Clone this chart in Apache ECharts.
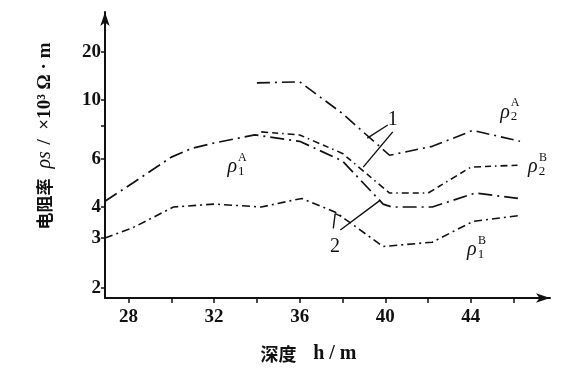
<!DOCTYPE html>
<html><head><meta charset="utf-8">
<script src="https://cdn.jsdelivr.net/npm/echarts@6/dist/echarts.min.js"></script>
<style>html,body{margin:0;padding:0;background:#fff}#c{width:586px;height:375px}</style>
</head><body><div id="c"></div>
<script>
// ---- data (depth h/m, resistivity x10^3 Ω·m) ----
const rho2A_x = [34, 36, 38, 40.2, 42.2, 44.1, 46.3];
const rho2A_v = [12.8, 13.0, 8.9, 6.2, 6.7, 7.7, 7.0];
const rho2B_x = [34.2, 36, 38, 40.2, 42, 44, 46.3];
const rho2B_v = [7.6, 7.4, 6.3, 4.5, 4.5, 5.6, 5.7];
const rho1A_x = [26.9, 28.2, 30, 31, 32, 33.9, 36, 38, 39.9, 40.3, 42.2, 44.2, 46.2];
const rho1A_v = [4.2, 4.9, 6.1, 6.6, 6.9, 7.4, 7.0, 5.9, 4.1, 4.0, 4.0, 4.5, 4.3];
const rho1B_x = [26.9, 28.2, 30.1, 32, 34.2, 36.1, 37.7, 39.9, 42.2, 44.1, 46.3];
const rho1B_v = [3.0, 3.3, 4.0, 4.1, 4.0, 4.3, 3.8, 2.8, 2.9, 3.5, 3.7];
const xTicks = [28, 30, 32, 34, 36, 38, 40, 42, 44, 46];
const xLabels = [28, 32, 36, 40, 44];
const yTicks = [2, 3, 4, 6, 8, 10, 20];
const yLabels = [2, 3, 4, 6, 10, 20];

// ---- hand-drawn (non-uniform) resistivity scale: breakpoints in axis units ----
const scaleVals = [2, 3, 4, 6, 8, 10, 20];
const scaleUnits = [10, 60, 91, 139, 172, 198, 246];
function toAxis(v) {
  let i = 0;
  while (i < scaleVals.length - 2 && v > scaleVals[i + 1]) i++;
  const a = Math.log(scaleVals[i]), b = Math.log(scaleVals[i + 1]);
  const t = (Math.log(v) - a) / (b - a);
  return scaleUnits[i] + t * (scaleUnits[i + 1] - scaleUnits[i]);
}
const pts = (xs, vs) => xs.map((x, i) => [x, toAxis(vs[i])]);
const C = (x, v) => [x, toAxis(v)];

const serif = 'Liberation Serif';
const hidden = {symbol: 'circle', symbolSize: 1, itemStyle: {color: 'rgba(0,0,0,0)'}};
function rhoLabels(x, v, sub, sup) {
  return [
    Object.assign({coord: C(x, v), value: 'ρ', label: {offset: [0, 0], fontSize: 20, fontStyle: 'italic'}}, hidden),
    Object.assign({coord: C(x, v), value: sub, label: {offset: [9, 4], fontSize: 13}}, hidden),
    Object.assign({coord: C(x, v), value: sup, label: {offset: [10, -9], fontSize: 12}}, hidden)
  ];
}
const lineCommon = {type: 'line', symbol: 'none', smooth: false, silent: true, z: 3};
const black = '#111';
const mpLabel = {show: true, color: black, fontFamily: serif, formatter: p => p.value};

const chart = echarts.init(document.getElementById('c'), null, {renderer: 'canvas'});
chart.setOption({
  animation: false,
  backgroundColor: '#fff',
  grid: {left: 105, right: 36, top: 12, bottom: 77},
  xAxis: {
    type: 'value', min: 26.9, max: 47.7,
    name: '{c|深度}     {n|h / m}', nameLocation: 'middle', nameGap: 46,
    nameTextStyle: {
      color: black, padding: [0, 38, 0, 0],
      rich: {
        c: {fontFamily: 'Noto Sans CJK SC', fontWeight: 'bold', fontSize: 18, color: black},
        n: {fontFamily: serif, fontWeight: 'bold', fontSize: 20, color: black}
      }
    },
    axisLine: {lineStyle: {color: black, width: 2}, symbol: ['none', 'arrow'], symbolSize: [7, 14]},
    axisTick: {show: true, inside: false, length: 5, lineStyle: {color: black, width: 1.5}, customValues: xTicks},
    axisLabel: {customValues: xLabels, color: black, fontSize: 19, fontWeight: 'bold', fontFamily: serif, margin: 10},
    splitLine: {show: false}
  },
  yAxis: {
    type: 'value', min: 0, max: 286,
    name: '{c|电阻率}   {i|ρs}  {n|/  ×10³ Ω · m}', nameLocation: 'middle', nameRotate: 90, nameGap: 50,
    nameTextStyle: {
      color: black, padding: [0, 0, 0, 38],
      rich: {
        c: {fontFamily: 'Noto Sans CJK SC', fontWeight: 'bold', fontSize: 17, color: black},
        i: {fontFamily: serif, fontStyle: 'italic', fontSize: 20, color: black},
        n: {fontFamily: serif, fontSize: 19, fontWeight: 'bold', color: black}
      }
    },
    axisLine: {lineStyle: {color: black, width: 2}, symbol: ['none', 'arrow'], symbolSize: [7, 14]},
    axisTick: {show: true, inside: false, length: 4, lineStyle: {color: black, width: 1.5}, customValues: yTicks.map(toAxis)},
    axisLabel: {
      customValues: yLabels.map(toAxis), color: black, fontSize: 19, fontWeight: 'bold', fontFamily: serif, margin: 4,
      formatter: function (u) {
        for (const t of yLabels) if (Math.abs(toAxis(t) - u) < 0.01) return String(t);
        return '';
      }
    },
    splitLine: {show: false}
  },
  series: [
    Object.assign({}, lineCommon, {
      name: 'ρ2A', data: pts(rho2A_x, rho2A_v),
      lineStyle: {color: black, width: 1.6, type: [13, 5, 2, 5]},
      markPoint: {silent: true, label: mpLabel, data: rhoLabels(45.6, 9.0, '2', 'A')},
      markLine: {
        silent: true, symbol: ['none', 'none'], label: {show: false},
        lineStyle: {color: black, width: 1.4, type: 'solid'},
        data: [
          [{coord: C(40.12, 8.07)}, {coord: C(39.16, 7.2)}],
          [{coord: C(40.35, 7.6)}, {coord: C(38.97, 5.6)}],
          [{coord: C(37.9, 3.23)}, {coord: C(39.77, 4.24)}],
          [{coord: C(37.57, 3.28)}, {coord: C(37.66, 3.76)}],
          [{coord: C(37.66, 3.76)}, {coord: C(37.94, 3.67)}]
        ]
      }
    }),
    Object.assign({}, lineCommon, {
      name: 'ρ2B', data: pts(rho2B_x, rho2B_v),
      lineStyle: {color: black, width: 1.6, type: [7, 4, 6, 4, 1.5, 4]},
      markPoint: {silent: true, label: mpLabel, data: rhoLabels(46.9, 5.6, '2', 'B')}
    }),
    Object.assign({}, lineCommon, {
      name: 'ρ1A', data: pts(rho1A_x, rho1A_v),
      lineStyle: {color: black, width: 1.7, type: [14, 5, 2, 5]},
      markPoint: {
        silent: true, label: mpLabel,
        data: rhoLabels(32.85, 5.6, '1', 'A').concat([
          Object.assign({coord: C(40.35, 8.42), value: '1', label: {fontSize: 20, offset: [0, 0]}}, hidden),
          Object.assign({coord: C(37.65, 2.79), value: '2', label: {fontSize: 20, offset: [0, 0]}}, hidden)
        ])
      }
    }),
    Object.assign({}, lineCommon, {
      name: 'ρ1B', data: pts(rho1B_x, rho1B_v),
      lineStyle: {color: black, width: 1.6, type: [8, 4, 2, 4]},
      markPoint: {silent: true, label: mpLabel, data: rhoLabels(44.05, 2.72, '1', 'B')}
    })
  ]
});
</script>
</body></html>
